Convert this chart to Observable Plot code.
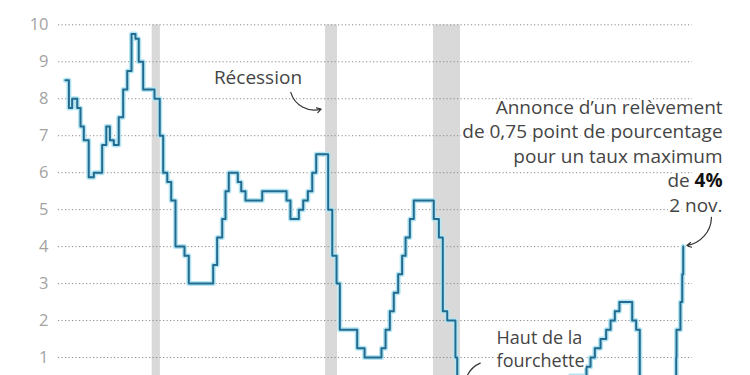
<!DOCTYPE html>
<html>
<head>
<meta charset="utf-8">
<script src="https://cdn.jsdelivr.net/npm/d3@7"></script>
<script src="https://cdn.jsdelivr.net/npm/@observablehq/plot@0.6"></script>
<style>
  html, body { margin: 0; padding: 0; background: #fff; overflow: hidden; }
  #chart svg { display: block; }
</style>
</head>
<body>
<div id="chart"></div>
<script>
// Fed funds target rate (upper bound), change dates as decimal years
const years = [1985.21, 1985.42, 1985.62, 1985.93, 1986.13, 1986.33, 1986.63, 1986.94, 1987.45, 1987.70,
  1987.92, 1988.16, 1988.46, 1988.73, 1988.98, 1989.24, 1989.48, 1989.68, 1989.95, 1990.64,
  1990.96, 1991.17, 1991.42, 1991.66, 1991.92, 1992.47, 1992.73, 1994.22, 1994.46, 1994.77,
  1994.97, 1995.17, 1995.72, 1995.93, 1996.19, 1997.21, 1998.69, 1998.93, 1999.44, 1999.71,
  1999.99, 2000.26, 2000.50, 2001.23, 2001.48, 2001.74, 2001.94, 2003.00, 2003.45, 2004.48,
  2004.73, 2004.99, 2005.23, 2005.50, 2005.74, 2005.95, 2006.21, 2006.45, 2007.67, 2007.98,
  2008.22, 2008.49, 2008.99, 2009.10, 2016.01, 2016.98, 2017.23, 2017.49, 2017.84, 2018.18,
  2018.45, 2018.71, 2018.99, 2019.77, 2020.01, 2020.23, 2022.45, 2022.47, 2022.71, 2022.82,
  2022.88];
const rates = [8.5, 7.75, 8.0, 7.75, 7.25, 6.875, 5.875, 6.0, 6.75, 7.25,
  6.875, 6.75, 7.5, 8.25, 8.75, 9.75, 9.625, 9.0, 8.25, 8.0,
  7.0, 6.0, 5.75, 5.25, 4.0, 3.75, 3.0, 3.5, 4.25, 4.75,
  5.5, 6.0, 5.75, 5.5, 5.25, 5.5, 5.25, 4.75, 5.0, 5.25,
  5.5, 6.0, 6.5, 5.0, 3.75, 3.0, 1.75, 1.25, 1.0, 1.25,
  1.75, 2.25, 2.75, 3.25, 3.75, 4.25, 4.75, 5.25, 4.75, 4.25,
  2.25, 2.0, 1.0, 0.25, 0.5, 0.75, 1.0, 1.25, 1.5, 1.75,
  2.0, 2.25, 2.5, 2.0, 1.75, 0.25, 1.0, 1.75, 2.5, 3.25,
  4.0];

// Recessions (start / end, decimal years)
const recessionStart = [1990.5, 2001.07, 2007.65];
const recessionEnd = [1991.0, 2001.8, 2009.3];

// Y tick values
const yTicks = [1, 2, 3, 4, 5, 6, 7, 8, 9, 10];

// Annotation texts
const noteRecession = "Récession";
const noteHike = "Annonce d’un relèvement\nde 0,75 point de pourcentage\npour un taux maximum\nde 4%\n2 nov.";
const noteRange = "Haut de la\nfourchette";

const series = years.map((t, i) => ({t, v: rates[i]}));
const recessions = recessionStart.map((s, i) => ({s, e: recessionEnd[i]}));

const FONT = "'Open Sans', sans-serif";
const TXT = "#454545";

const chart = Plot.plot({
  width: 750,
  height: 375,
  marginLeft: 58,
  marginRight: 58,
  marginTop: 24.3,
  marginBottom: 0,
  style: {fontFamily: FONT, fontSize: "16px", color: "#a3a3a3", background: "#fff"},
  x: {domain: [1984.787, 2023.445], axis: null},
  y: {domain: [0.514, 10], axis: null},
  marks: [
    Plot.rect(recessions, {x1: "s", x2: "e", y1: 0, y2: 10, fill: "#d9d9d9", clip: true}),
    Plot.gridY(yTicks, {stroke: "#8a8a8a", strokeOpacity: 1, strokeWidth: 1, strokeDasharray: "1.2,2.3"}),
    Plot.axisY(yTicks, {tickSize: 0, tickPadding: 10, fill: "#a3a3a3", fontSize: 16.5, label: null}),
    Plot.line(series, {x: "t", y: "v", curve: "step-after", stroke: "#b3e6f2", strokeWidth: 5, clip: true}),
    Plot.line(series, {x: "t", y: "v", curve: "step-after", stroke: "#236a90", strokeWidth: 2, clip: true}),
    Plot.text([noteRecession], {x: 1996.95, y: 8.57, text: d => d, fill: TXT, fontSize: 19, textAnchor: "middle", lineAnchor: "middle", stroke: "#fff", strokeWidth: 4}),
    Plot.arrow([0], {x1: 1998.95, y1: 8.17, x2: 2000.8, y2: 7.72, bend: -45, stroke: "#333", strokeWidth: 1.2, headLength: 6}),
    Plot.text([noteHike], {x: 2025.28, y: 6.48, text: d => d, fill: TXT, fontSize: 19, textAnchor: "end", lineAnchor: "middle", lineHeight: 1.29, stroke: "#fff", strokeWidth: 5}),
    Plot.arrow([0], {x1: 2024.6, y1: 4.79, x2: 2023.1, y2: 4.03, bend: 40, stroke: "#333", strokeWidth: 1.2, headLength: 6}),
    Plot.text([noteRange], {x: 2011.5, y: 1.25, text: d => d, fill: TXT, fontSize: 18, textAnchor: "start", lineAnchor: "middle", lineHeight: 1.28, stroke: "#fff", strokeWidth: 4}),
    Plot.arrow([0], {x1: 2010.5, y1: 0.85, x2: 2009.6, y2: 0.05, bend: -40, stroke: "#333", strokeWidth: 1.2, headLength: 6, clip: true})
  ]
});

// Bold "4%" inside the annotation
d3.select(chart).selectAll("tspan").each(function() {
  if (this.textContent === "de 4%") {
    const s = d3.select(this);
    s.text("de ");
    s.append("tspan").attr("font-weight", "bold").attr("fill", "#111").text("4%");
  }
});

document.getElementById("chart").appendChild(chart);
</script>
</body>
</html>
